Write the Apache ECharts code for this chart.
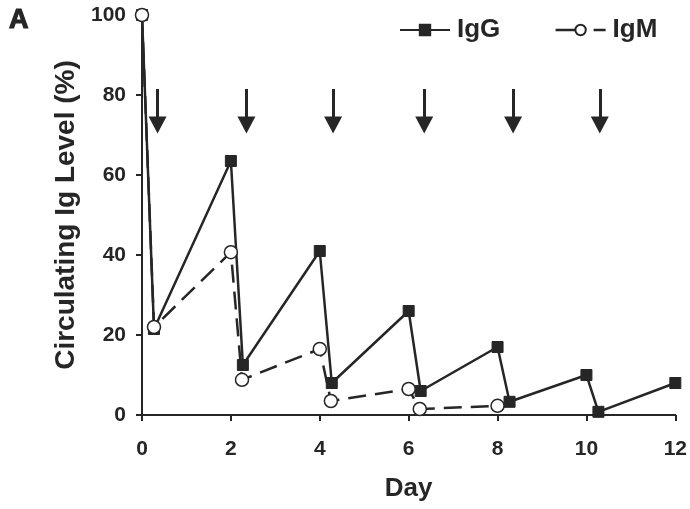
<!DOCTYPE html>
<html>
<head>
<meta charset="utf-8">
<script src="https://cdn.jsdelivr.net/npm/echarts@6/dist/echarts.min.js"></script>
<style>html,body{margin:0;padding:0;background:#fff}#c{width:690px;height:509px}</style>
</head>
<body>
<div id="c"></div>
<script>
const igG = [[0,100],[0.27,21.5],[2,63.5],[2.27,12.5],[4,41],[4.27,8],[6,26],[6.27,6],[8,17],[8.27,3.3],[10,10],[10.27,0.8],[12,8]];
const igM = [[0,100],[0.27,22],[2,40.7],[2.25,8.8],[4,16.5],[4.25,3.5],[6,6.5],[6.25,1.5],[8,2.3]];
const doseDays = [0.35, 2.35, 4.3, 6.35, 8.35, 10.3];
const xTicks = [0,2,4,6,8,10,12];
const yTicks = [0,20,40,60,80,100];

const ink = '#262626';
const font = 'Liberation Sans';
const chart = echarts.init(document.getElementById('c'), null, {renderer:'canvas'});
chart.setOption({
  animation:false,
  backgroundColor:'#fff',
  title:{text:'A', left:4, top:2, textStyle:{fontFamily:font, fontWeight:900, fontSize:27, color:ink, textBorderColor:ink, textBorderWidth:1.2}},
  legend:{
    left:394, top:12, itemGap:54, itemWidth:50, itemHeight:13,
    textStyle:{fontFamily:font, fontWeight:'bold', fontSize:26, color:ink, padding:[0,0,0,2]},
    data:[
      {name:'IgG'},
      {name:'IgM', lineStyle:{type:[20,18], width:2.5}}
    ]
  },
  grid:{left:142, right:13, top:15, bottom:94, containLabel:false},
  xAxis:{
    type:'value', min:0, max:12, interval:2,
    name:'Day', nameLocation:'middle', nameGap:61, nameMoveOverlap:false,
    nameTextStyle:{fontFamily:font, fontWeight:'bold', fontSize:26, color:ink, verticalAlign:'top'},
    axisLine:{lineStyle:{color:ink, width:2}},
    axisTick:{show:true, length:6, lineStyle:{color:ink, width:2}},
    axisLabel:{margin:24, fontFamily:font, fontWeight:'bold', fontSize:21, color:ink,
      formatter:v=>xTicks.includes(v)?String(v):''},
    splitLine:{show:false}
  },
  yAxis:{
    type:'value', min:0, max:100, interval:20,
    name:'Circulating Ig Level (%)', nameLocation:'middle', nameGap:54, nameRotate:90,
    nameTextStyle:{fontFamily:font, fontWeight:'bold', fontSize:28, color:ink},
    axisLine:{show:true, lineStyle:{color:ink, width:2}},
    axisTick:{show:true, length:6, lineStyle:{color:ink, width:2}},
    axisLabel:{margin:16, fontFamily:font, fontWeight:'bold', fontSize:21, color:ink,
      formatter:v=>yTicks.includes(v)?String(v):''},
    splitLine:{show:false}
  },
  series:[
    {
      name:'IgG', type:'line', data:igG,
      symbol:'rect', symbolSize:11,
      lineStyle:{color:ink, width:2.5},
      itemStyle:{color:ink, borderColor:ink, borderWidth:1},
      z:3,
      markLine:{
        silent:true, animation:false,
        symbol:['none','triangle'], symbolSize:[18,17],
        label:{show:false},
        lineStyle:{color:ink, width:3, type:'solid'},
        data: doseDays.map(d=>[{coord:[d,81.5]},{coord:[d,72.5]}])
      }
    },
    {
      name:'IgM', type:'line', data:igM,
      symbol:'circle', symbolSize:13,
      lineStyle:{color:ink, width:2.5, type:[18,9]},
      itemStyle:{color:'#fff', borderColor:ink, borderWidth:1.5},
      z:4
    }
  ]
});
</script>
</body>
</html>
